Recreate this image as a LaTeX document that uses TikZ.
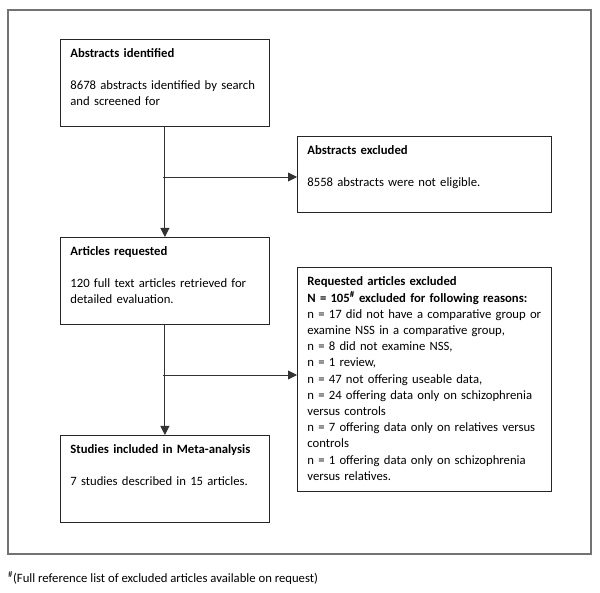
\documentclass[tikz,border=0pt]{standalone}
\usepackage{fontspec}
\setmainfont{Carlito}
\usetikzlibrary{arrows.meta}

\newcommand{\boxbody}[2]{\parbox[c][#1][t]{\dimexpr\linewidth+8pt\relax}{\rule{0pt}{18.5pt}#2}}

\begin{document}
\begin{tikzpicture}[x=1pt, y=-1pt,
    stage/.style={draw=black!85, line width=0.8pt, anchor=north west,
      inner xsep=10pt, inner ysep=0pt, text width=#1, align=left,
      font=\fontsize{12.7}{16.2}\selectfont},
    flow/.style={draw=black!80, line width=0.9pt},
    flowarrow/.style={flow, -{Triangle[length=9pt, width=9pt]}}]
    \useasboundingbox (0,0) rectangle (600,593);
    \draw[black!55, line width=1.6pt] (8,10) rectangle (591,554);

    \node[stage=189pt] (ident) at (60,39) {\boxbody{87pt}{\textbf{Abstracts identified}\\[15pt]
      8678 abstracts identified by search\\ and screened for}};
    \node[stage=234pt] (absexcl) at (297,136) {\boxbody{76pt}{\textbf{Abstracts excluded}\\[15pt]
      8558 abstracts were not eligible.}};
    \node[stage=189pt] (request) at (60,237) {\boxbody{87pt}{\textbf{Articles requested}\\[15pt]
      120 full text articles retrieved for\\ detailed evaluation.}};
    \node[stage=234pt] (reqexcl) at (297,267) {\boxbody{224pt}{\textbf{Requested articles excluded}\\
      \textbf{N = 105\textsuperscript{\#} excluded for following reasons:}\\
      n = 17 did not have a comparative group or\\
      examine NSS in a comparative group,\\
      n = 8 did not examine NSS,\\
      n = 1 review,\\
      n = 47 not offering useable data,\\
      n = 24 offering data only on schizophrenia\\
      versus controls\\
      n = 7 offering data only on relatives versus\\
      controls\\
      n = 1 offering data only on schizophrenia\\
      versus relatives.}};
    \node[stage=189pt] (included) at (60,435) {\boxbody{87pt}{\textbf{Studies included in Meta-analysis}\\[15pt]
      7 studies described in 15 articles.}};

    \node[anchor=west, inner sep=0pt, font=\fontsize{12.7}{16.2}\selectfont] (note) at (8,578)
      {\textsuperscript{\#}(Full reference list of excluded articles available on request)};

    % branches off the main line
    \coordinate (split1) at (163,177);
    \coordinate (split2) at (163,375);
    \draw[flowarrow] (ident.south) -- (request.north);
    \draw[flowarrow] (split1) -- (split1 -| absexcl.west);
    \draw[flowarrow] (request.south) -- (included.north);
    \draw[flowarrow] (split2) -- (split2 -| reqexcl.west);
\end{tikzpicture}
\end{document}
